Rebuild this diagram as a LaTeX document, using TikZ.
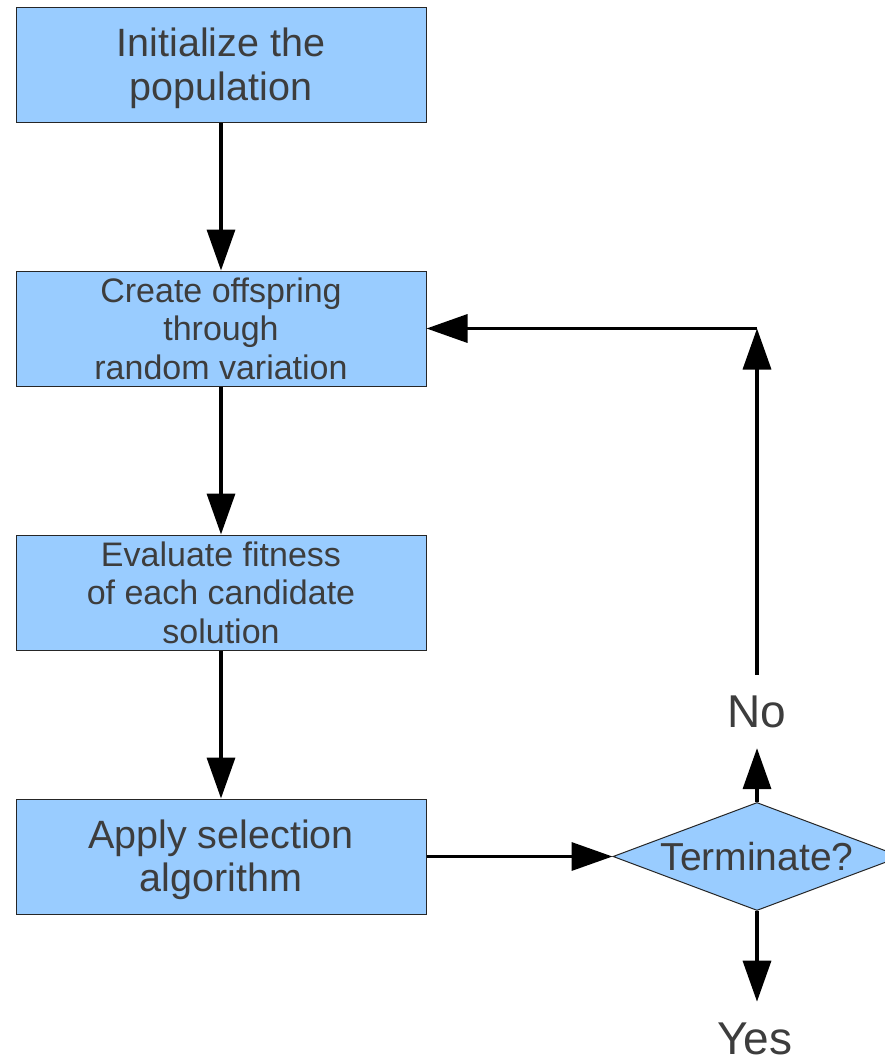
\documentclass[tikz,border=0pt]{standalone}
\usepackage{fontspec}
\setmainfont{Liberation Sans}
\usetikzlibrary{arrows.meta,shapes.geometric}
\definecolor{boxfill}{HTML}{99CCFF}
\definecolor{ink}{HTML}{3D3D3D}
\begin{document}
\begin{tikzpicture}[x=1pt,y=-1pt,
  stepbox/.style={draw=black!85, line width=1pt, fill=boxfill,
    minimum width=410pt, minimum height=115pt, inner sep=0pt,
    align=center, text=ink},
  bigtext/.style={font=\fontsize{39.5}{44}\selectfont},
  smalltext/.style={font=\fontsize{34}{38.5}\selectfont},
  decision/.style={diamond, draw=black!85, line width=1pt, fill=boxfill,
    minimum width=288pt, minimum height=108pt, inner sep=0pt, aspect=2.667,
    text=ink, font=\fontsize{39}{42}\selectfont},
  arr/.style={line width=3.5pt, -{Triangle[length=41pt,width=28pt]}},
  lbl/.style={font=\fontsize{46}{50}\selectfont, text=ink,
    inner xsep=0pt, inner ysep=20.5pt, anchor=base}]
\useasboundingbox (0,0) rectangle (884,1055);
\fill[white] (0,0) rectangle (884,1055);

% process steps
\node[stepbox,bigtext,font=\fontsize{39.5}{44.5}\selectfont,
      text height=81pt, text depth=8.6pt] (init) at (221,64.5) {Initialize the\\population};
\node[stepbox,smalltext] (create) at (221,328.5) {Create offspring\\through\\random variation};
\node[stepbox,smalltext] (eval)   at (221,592.5) {Evaluate fitness\\of each candidate\\solution};
\node[stepbox,bigtext,font=\fontsize{39.5}{43}\selectfont,
      text height=78pt, text depth=9pt] (select) at (221,856.5) {Apply selection\\algorithm};

% decision and its outcomes
\node[decision] (term) at (757,856.5) {\makebox[0pt]{Terminate?}};
\node[lbl] (no)  at (757,727)  {No};
\node[lbl] (yes) at (755,1054) {Yes};
\coordinate (turn) at (no.north |- create.east);

% main flow
\draw[arr] (init.south)   -- (create.north);
\draw[arr] (create.south) -- (eval.north);
\draw[arr] (eval.south)   -- (select.north);
\draw[arr] (select.east)  -- (term.west);

% loop back and exit
\draw[arr] (term.north) -- (no.south);
\draw[arr] (no.north) -- (turn);
\draw[arr] (turn) -- (create.east);
\draw[arr] (term.south) -- (term.south |- yes.north);
\end{tikzpicture}
\end{document}
